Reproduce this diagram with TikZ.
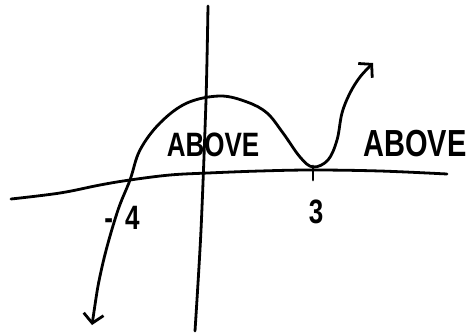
\documentclass[tikz,border=0pt]{standalone}
\usepackage{fontspec}
\setmainfont{Liberation Sans}
\usetikzlibrary{arrows.meta}

\newcommand{\tallText}[1]{\scalebox{1}[1.3]{#1}}

\begin{document}
\begin{tikzpicture}[
  x=1pt, y=-1pt,
  pen/.style={line width=2.8pt, line cap=round, line join=round},
  lbl/.style={font=\bfseries\fontsize{26}{28}\selectfont, inner sep=0pt},
  ends/.style={{Straight Barb[length=9pt, width=20pt]}-{Straight Barb[length=9pt, width=20pt]}}
]
\useasboundingbox (0,0) rectangle (470,334);

% axes
\draw[pen] plot[smooth, tension=0.6] coordinates {(11,199) (60,193) (100,185) (130,180) (170,175) (208,173) (260,171) (313,170) (380,171) (447,174)};
\draw[pen] plot[smooth] coordinates {(208,6) (206,100) (201,230) (195,331)};

% root marks
\coordinate (rootA) at (130,180);
\coordinate (rootB) at (313,169);
\draw[pen] (rootB) ++(0,-3) -- ++(0,14);
\node[lbl] (neg) at (122,218) {\tallText{-\kern12pt4}};
\node[lbl] (three) at (316,212) {\tallText{3}};

% curve
\draw[pen, ends] plot[smooth, tension=0.6] coordinates {(92,325) (102,267) (117,213) (130,180) (140,150) (160,123) (187,103) (220,96) (247,102) (267,113) (283,133) (300,157) (313,167) (328,160) (337,140) (342,113) (350,93) (360,77) (373,63)};

% regions
\node[lbl] (aboveA) at (213,145) {\tallText{ABOVE}};
\node[lbl, font=\bfseries\fontsize{29}{30}\selectfont] (aboveB) at (415,144) {\tallText{ABOVE}};
\end{tikzpicture}
\end{document}
